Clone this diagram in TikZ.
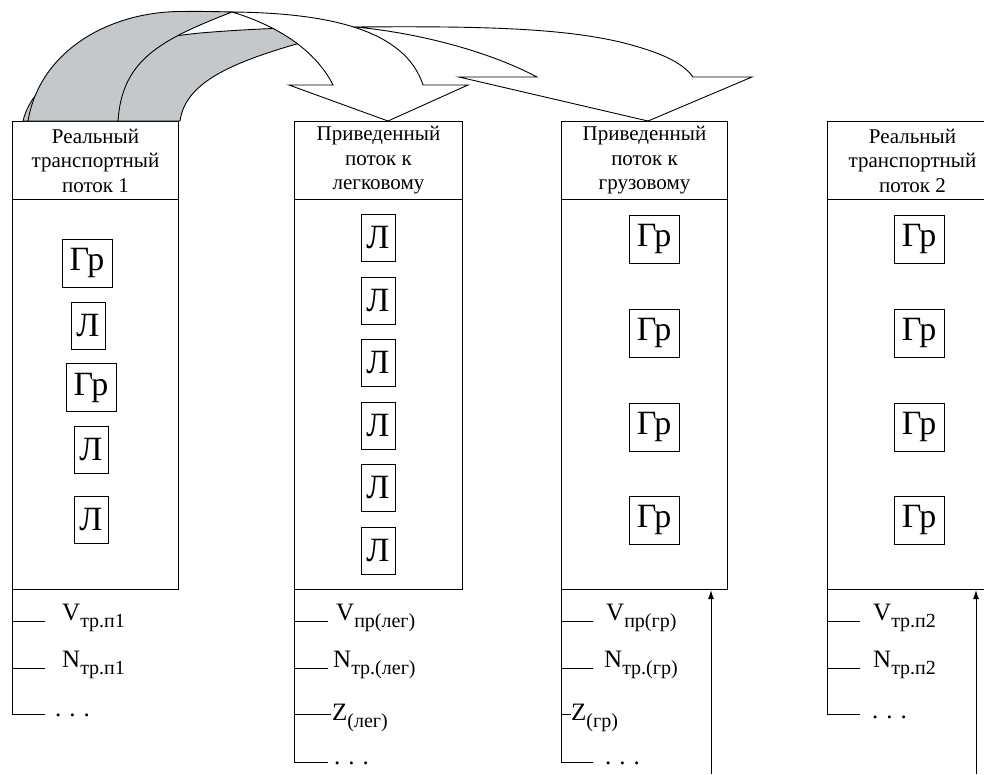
\documentclass[tikz,border=0pt]{standalone}
\usepackage{fontspec}
\setmainfont{Liberation Serif}
\newfontfamily\tnr{Liberation Serif}
\usetikzlibrary{arrows.meta}
\definecolor{backgray}{RGB}{197,200,202}
\tikzset{
  hdr/.style={draw, line width=1pt, anchor=north west, minimum width=166pt, minimum height=78pt, align=center, font=\tnr\fontsize{21}{24.5}\selectfont, inner sep=0pt},
  body/.style={draw, line width=1pt, anchor=north west, minimum width=166pt, minimum height=390pt, inner sep=0pt},
  grbox/.style={draw, line width=0.8pt, minimum width=50pt, minimum height=48pt, inner sep=0pt, font=\tnr\fontsize{34}{34}\selectfont},
  lbox/.style={draw, line width=0.8pt, minimum width=34pt, minimum height=47pt, inner sep=0pt, font=\tnr\fontsize{34}{34}\selectfont},
  lbl/.style={anchor=base west, inner sep=0pt, font=\tnr\fontsize{25}{25}\selectfont},
  ln/.style={line width=1pt},
  fshape/.style={draw, line width=0.9pt, fill=white, line join=miter},
  bshape/.style={draw, line width=0.9pt, fill=backgray},
  uparrow/.style={line width=1pt, -{Latex[length=9pt,width=6pt]}},
}
\newcommand{\sbs}[1]{\raisebox{-7pt}{\tnr\fontsize{20}{20}\selectfont #1}}
\newcommand{\tdots}{.\hspace{8pt}.\hspace{8pt}.}
\begin{document}
\begin{tikzpicture}[x=1pt,y=-1pt]
\useasboundingbox (0,0) rectangle (984,774);
\clip (0,0) rectangle (984,774);
% columns
\node[hdr] (h1) at (12,121) {Реальный\\транспортный\\поток 1};
\node[body] (b1) at (12,199) {};
\node[hdr,minimum width=168pt] (h2) at (294,121) {Приведенный\\поток к\\легковому};
\node[body,minimum width=168pt] (b2) at (294,199) {};
\node[hdr] (h3) at (561,121) {Приведенный\\поток к\\грузовому};
\node[body] (b3) at (561,199) {};
\node[hdr,minimum width=170pt] (h4) at (827,121) {Реальный\\транспортный\\поток 2};
\node[body,minimum width=170pt] (b4) at (827,199) {};
% vehicles col 1
\node[grbox] (c1a) at (87,263) {Гр};
\node[lbox] (c1b) at (88,325.5) {Л};
\node[grbox] (c1c) at (91,387.5) {Гр};
\node[lbox] (c1d) at (91,450) {Л};
\node[lbox] (c1e) at (91,519.5) {Л};
% col 2
\node[lbox] (c2a) at (378,238) {Л};
\node[lbox] (c2b) at (378,301) {Л};
\node[lbox] (c2c) at (378,363) {Л};
\node[lbox] (c2d) at (378,425.5) {Л};
\node[lbox] (c2e) at (378,488) {Л};
\node[lbox] (c2f) at (378,550.5) {Л};
% col 3
\node[grbox] (c3a) at (654,239) {Гр};
\node[grbox] (c3b) at (654,333) {Гр};
\node[grbox] (c3c) at (654,427) {Гр};
\node[grbox] (c3d) at (654,520) {Гр};
% col 4
\node[grbox] (c4a) at (919,239) {Гр};
\node[grbox] (c4b) at (919,333) {Гр};
\node[grbox] (c4c) at (919,427) {Гр};
\node[grbox] (c4d) at (919,520) {Гр};
% trees col 1
\draw[ln] (b1.south west) |- (45,714);
\draw[ln] (12,621) -- (45,621);
\draw[ln] (12,668) -- (45,668);
\node[lbl] (v1) at (62,620) {V\sbs{тр.п1}};
\node[lbl] (n1) at (62,667) {N\sbs{тр.п1}};
\node[lbl] (d1) at (55,716) {\tdots};
% col 2
\draw[ln] (b2.south west) |- (328,762);
\draw[ln] (294,621) -- (328,621);
\draw[ln] (294,668) -- (328,668);
\draw[ln] (294,714) -- (331,714);
\node[lbl] (v2) at (336,620) {V\sbs{пр(лег)}};
\node[lbl] (n2) at (333,667) {N\sbs{тр.(лег)}};
\node[lbl] (z2) at (332,720) {Z\sbs{(лег)}};
\node[lbl] (d2) at (334,764) {\tdots};
% col 3
\draw[ln] (b3.south west) |- (593,762);
\draw[ln] (561,621) -- (593,621);
\draw[ln] (561,668) -- (593,668);
\draw[ln] (561,714) -- (571,714);
\node[lbl] (v3) at (606,620) {V\sbs{пр(гр)}};
\node[lbl] (n3) at (604,667) {N\sbs{тр.(гр)}};
\node[lbl] (z3) at (571,720) {Z\sbs{(гр)}};
\node[lbl] (d3) at (605,764) {\tdots};
% col 4
\draw[ln] (b4.south west) |- (860,714);
\draw[ln] (827,621) -- (860,621);
\draw[ln] (827,668) -- (860,668);
\node[lbl] (v4) at (873,620) {V\sbs{тр.п2}};
\node[lbl] (n4) at (873,667) {N\sbs{тр.п2}};
\node[lbl] (d4) at (872,718) {\tdots};
% input arrows
\coordinate (in3) at (711,774);
\coordinate (in4) at (976,774);
\draw[uparrow] (in3) -- (in3 |- b3.south);
\draw[uparrow] (in4) -- (in4 |- b4.south);
% curved arrow 2 (to column 3), behind
\draw[bshape] (23,121) .. controls (35,70) and (110,42) .. (200,33) .. controls (260,28) and (310,27) .. (355,27) .. controls (340,30) and (320,38) .. (293,45) .. controls (225,65) and (185,85) .. (180,121) -- cycle;
\draw[fshape] (355,27) .. controls (480,26) and (560,28) .. (620,42) .. controls (660,52) and (682,62) .. (693,77) -- (752,77) -- (648,121) -- (459,77) -- (537,77) .. controls (490,52) and (420,33) .. (355,27) -- cycle;
% curved arrow 1 (to column 2), front
\draw[bshape] (28,121) .. controls (40,50) and (110,12) .. (180,11.5) .. controls (200,11.3) and (215,11.5) .. (232,12) .. controls (160,40) and (122,60) .. (118,121) -- cycle;
\draw[fshape] (232,12) .. controls (330,13) and (405,30) .. (423,85) -- (468,85) -- (388,121) -- (289,85) -- (333,85) .. controls (318,55) and (285,28) .. (232,12) -- cycle;
\end{tikzpicture}
\end{document}
